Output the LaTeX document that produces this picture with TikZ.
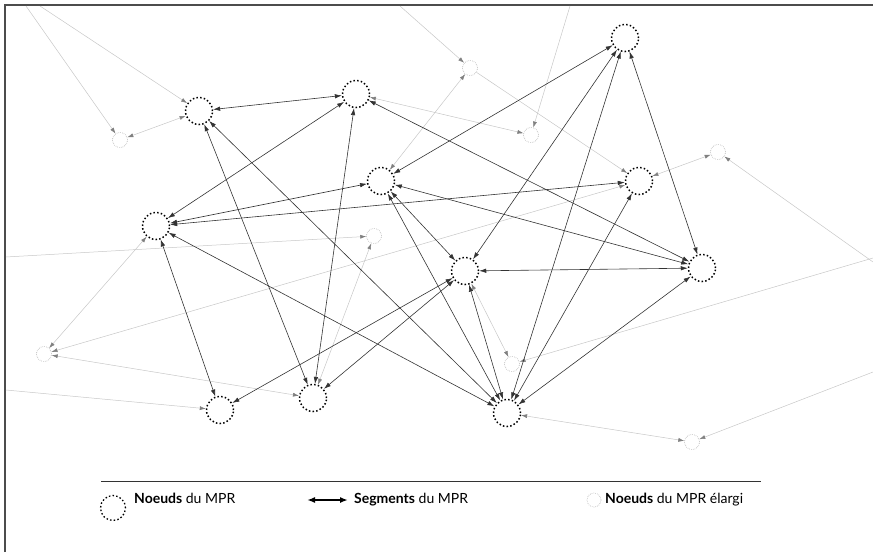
\documentclass[tikz,border=0pt]{standalone}
\usepackage{fontspec}
\setmainfont{Lato}
\usetikzlibrary{arrows.meta}

\begin{document}
\begin{tikzpicture}[x=1pt, y=-1pt,
    mpr/.style={circle, draw, dash pattern=on 1.5pt off 2.2pt, line width=1.5pt,
      minimum size=27pt, inner sep=0pt},
    ext/.style={circle, draw=black!35, dash pattern=on 0.6pt off 1.2pt, line width=0.6pt,
      minimum size=15pt, inner sep=0pt},
    seg/.style={{Latex[length=7pt,width=4.5pt]}-{Latex[length=7pt,width=4.5pt]},
      draw=black!80, line width=0.6pt},
    lien/.style={-{Latex[length=6pt,width=4pt,color=black!50]}, draw=black!22, line width=0.5pt},
    liens/.style={{Latex[length=6pt,width=4pt,color=black!50]}-{Latex[length=6pt,width=4pt,color=black!50]},
      draw=black!22, line width=0.5pt},
    legtext/.style={anchor=base west, inner sep=0pt, font=\fontsize{14pt}{16pt}\selectfont}]
    \useasboundingbox (0,0) rectangle (873,552);
    \draw[black!70, line width=2pt] (5,552) -- (5,5) -- (873,5);
    \node[mpr] (A) at (199,111) {};
    \node[mpr] (B) at (356,94) {};
    \node[mpr] (C) at (625,38) {};
    \node[mpr] (D) at (381,181) {};
    \node[mpr] (E) at (639,181) {};
    \node[mpr] (F) at (156,226) {};
    \node[mpr] (G) at (465,271) {};
    \node[mpr] (H) at (702,268) {};
    \node[mpr] (I) at (220,410) {};
    \node[mpr] (J) at (313,398) {};
    \node[mpr] (K) at (507,413) {};
    \node[ext] (a) at (120,140) {};
    \node[ext] (b) at (470,68) {};
    \node[ext] (c) at (531,135) {};
    \node[ext] (d) at (718,152) {};
    \node[ext] (e) at (374,236) {};
    \node[ext] (f) at (44,354) {};
    \node[ext] (g) at (512,364) {};
    \node[ext] (h) at (692,442) {};
    \coordinate (o1) at (26,6);
    \coordinate (o2) at (40,6);
    \coordinate (o3) at (400,6);
    \coordinate (o4) at (570,6);
    \coordinate (o5) at (873,262);
    \coordinate (o6) at (6,257);
    \coordinate (o7) at (6,390);
    \coordinate (o8) at (873,258);
    \coordinate (o9) at (873,372);
    \draw[lien] (o1) -- (a);
    \draw[lien] (o2) -- (A);
    \draw[liens] (a) -- (A);
    \draw[lien] (o3) -- (b);
    \draw[lien] (b) -- (E);
    \draw[lien] (o4) -- (c);
    \draw[liens] (B) -- (c);
    \draw[liens] (D) -- (b);
    \draw[liens] (E) -- (d);
    \draw[lien] (o5) -- (d);
    \draw[lien] (o6) -- (e);
    \draw[liens] (f) -- (F);
    \draw[liens] (f) -- (E);
    \draw[liens] (f) -- (J);
    \draw[lien] (o7) -- (I);
    \draw[liens] (J) -- (e);
    \draw[liens] (G) -- (g);
    \draw[lien] (o8) -- (g);
    \draw[liens] (K) -- (h);
    \draw[lien] (o9) -- (h);
    \draw[seg] (A) -- (B);
    \draw[seg] (A) -- (J);
    \draw[seg] (A) -- (K);
    \draw[seg] (B) -- (F);
    \draw[seg] (B) -- (J);
    \draw[seg] (B) -- (H);
    \draw[seg] (C) -- (D);
    \draw[seg] (C) -- (G);
    \draw[seg] (C) -- (K);
    \draw[seg] (C) -- (H);
    \draw[seg] (D) -- (F);
    \draw[seg] (D) -- (H);
    \draw[seg] (D) -- (G);
    \draw[seg] (D) -- (K);
    \draw[seg] (E) -- (F);
    \draw[seg] (E) -- (K);
    \draw[seg] (F) -- (I);
    \draw[seg] (F) -- (K);
    \draw[seg] (G) -- (I);
    \draw[seg] (G) -- (J);
    \draw[seg] (G) -- (H);
    \draw[seg] (G) -- (K);
    \draw[seg] (H) -- (K);
    \coordinate (l1) at (101,481);
    \coordinate (l2) at (761,481);
    \draw[black!80, line width=1pt] (l1) -- (l2);
    \node[mpr, line width=1.3pt, minimum size=25pt] (lgA) at (113,508) {};
    \node[legtext] (lt1) at (134,503) {\textbf{Noeuds} du MPR};
    \coordinate (s1) at (307,500);
    \coordinate (s2) at (348,500);
    \draw[{Latex[length=8pt,width=6pt]}-{Latex[length=8pt,width=6pt]}, line width=1.6pt] (s1) -- (s2);
    \node[legtext] (lt2) at (354,503) {\textbf{Segments} du MPR};
    \node[ext, minimum size=14pt] (lgb) at (594,500) {};
    \node[legtext] (lt3) at (605,503) {\textbf{Noeuds} du MPR élargi};
\end{tikzpicture}
\end{document}
